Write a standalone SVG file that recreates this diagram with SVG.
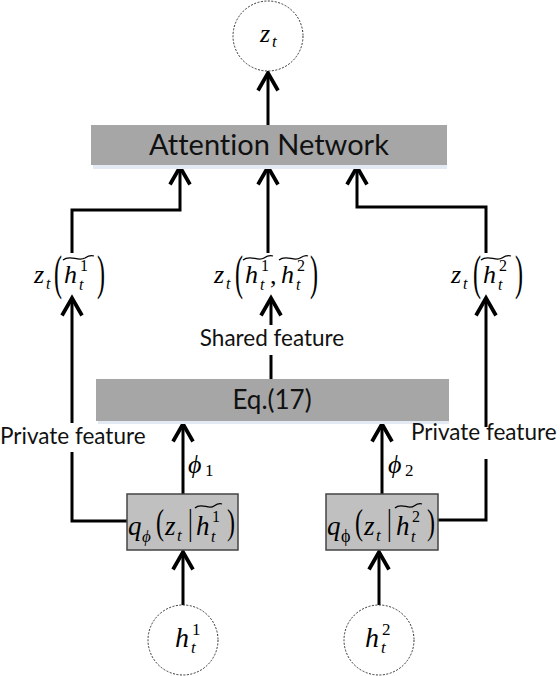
<svg xmlns="http://www.w3.org/2000/svg" width="560" height="676" viewBox="0 0 560 676">
<style>
.m{font-family:"Liberation Serif",serif;font-style:italic;fill:#000}
.r{font-family:"Liberation Serif",serif;fill:#000}
.lab{font-family:Lato,"Open Sans",sans-serif;fill:#111;font-variant-ligatures:none;font-feature-settings:"liga" 0}
.circ{fill:#fff;stroke:#333;stroke-width:1;stroke-dasharray:2 1.5}
.bigbox{fill:#a6a6a6}
.shadow{fill:#e3eaf4}
.qbox{fill:#c0c0c0;stroke:#444;stroke-width:1.5}
.ln{fill:none;stroke:#000;stroke-width:3}
.tl{fill:none;stroke:#000;stroke-width:1.3}
</style>
<defs>
<marker id="ah" markerUnits="userSpaceOnUse" markerWidth="30" markerHeight="30" viewBox="-16 -12 20 24" refX="0" refY="0" orient="auto" overflow="visible">
<path d="M-14,-8 L0,0 L-14,8" fill="none" stroke="#000" stroke-width="3"/>
</marker>
</defs>
<rect width="560" height="676" fill="#fff"/>

<g id="connectors">
<path class="ln" d="M268,125 L268,73" marker-end="url(#ah)"/>
<path class="ln" d="M72,253 L72,210 L180,210 L180,167" marker-end="url(#ah)"/>
<path class="ln" d="M268,253 L268,167" marker-end="url(#ah)"/>
<path class="ln" d="M486,253 L486,207 L357,207 L357,167" marker-end="url(#ah)"/>
<path class="ln" d="M271,379 L271,355"/>
<path class="ln" d="M271,325 L271,298" marker-end="url(#ah)"/>
<path class="ln" d="M127,521 L72,521 L72,452"/>
<path class="ln" d="M72,423 L72,298" marker-end="url(#ah)"/>
<path class="ln" d="M438,520 L486,520 L486,459"/>
<path class="ln" d="M486,427 L486,298" marker-end="url(#ah)"/>
<path class="ln" d="M183,494 L183,424" marker-end="url(#ah)"/>
<path class="ln" d="M382,494 L382,424" marker-end="url(#ah)"/>
<path class="ln" d="M183,605 L183,552" marker-end="url(#ah)"/>
<path class="ln" d="M379,605 L379,552" marker-end="url(#ah)"/>
</g>

<g id="zt">
<circle class="circ" cx="268" cy="36" r="35"/>
<text class="m" x="260" y="42" font-size="26">z</text>
<text class="m" x="272" y="47" font-size="17">t</text>
</g>

<g id="attention">
<rect class="shadow" x="93" y="163" width="354" height="6"/>
<rect class="bigbox" x="91" y="125" width="356" height="40"/>
<text class="lab" x="269" y="155" font-size="29" text-anchor="middle">Attention Network</text>
</g>

<g id="label-left">
<text class="m" x="34" y="283" font-size="26">z</text>
<text class="m" x="46" y="289" font-size="16">t</text>
<text class="r" font-size="24" transform="translate(54,289) scale(1,2)">(</text>
<text class="m" x="64" y="283" font-size="26">h</text>
<text class="r" x="80" y="271" font-size="16">1</text>
<text class="m" x="79" y="290" font-size="16">t</text>
<text class="r" font-size="24" transform="translate(97,289) scale(1,2)">)</text>
<path class="tl" d="M63,260 C70,254 78,262 85,258 C88,256 91,255 94,256"/>
</g>

<g id="label-mid">
<text class="m" x="214" y="283" font-size="26">z</text>
<text class="m" x="226" y="289" font-size="16">t</text>
<text class="r" font-size="24" transform="translate(235,289) scale(1,2)">(</text>
<text class="m" x="245" y="283" font-size="26">h</text>
<text class="r" x="261" y="271" font-size="16">1</text>
<text class="m" x="260" y="290" font-size="16">t</text>
<text class="r" x="270" y="284" font-size="26">,</text>
<text class="m" x="281" y="283" font-size="26">h</text>
<text class="r" x="297" y="271" font-size="16">2</text>
<text class="m" x="296" y="290" font-size="16">t</text>
<text class="r" font-size="24" transform="translate(310,289) scale(1,2)">)</text>
<path class="tl" d="M243,260 C250,254 258,262 264,258 C267,256 270,255 273,256"/>
<path class="tl" d="M279,260 C286,254 294,262 300,258 C303,256 306,255 308,256"/>
</g>

<g id="label-right">
<text class="m" x="451" y="283" font-size="26">z</text>
<text class="m" x="463" y="289" font-size="16">t</text>
<text class="r" font-size="24" transform="translate(473,289) scale(1,2)">(</text>
<text class="m" x="483" y="283" font-size="26">h</text>
<text class="r" x="499" y="271" font-size="16">2</text>
<text class="m" x="498" y="290" font-size="16">t</text>
<text class="r" font-size="24" transform="translate(515,289) scale(1,2)">)</text>
<path class="tl" d="M481,260 C488,254 496,262 502,258 C505,256 508,255 511,256"/>
</g>

<g id="shared-label">
<text class="lab" x="272" y="346" font-size="22.5" text-anchor="middle">Shared feature</text>
</g>

<g id="eq17">
<rect class="shadow" x="98" y="419" width="351" height="5"/>
<rect class="bigbox" x="96" y="379" width="353" height="42"/>
<text class="lab" x="272" y="409" font-size="26" text-anchor="middle">Eq.(17)</text>
</g>

<g id="private-left">
<text class="lab" x="0" y="444" font-size="22.5">Private feature</text>
</g>
<g id="private-right">
<text class="lab" x="411" y="440" font-size="22.5">Private feature</text>
</g>

<g id="phi1">
<text class="m" x="188" y="473" font-size="26">ϕ</text>
<text class="r" x="205" y="476" font-size="17">1</text>
</g>
<g id="phi2">
<text class="m" x="388" y="473" font-size="26">ϕ</text>
<text class="r" x="405" y="476" font-size="17">2</text>
</g>

<g id="q1">
<rect class="qbox" x="127" y="494" width="111" height="56"/>
<text class="m" x="128" y="535" font-size="27">q</text>
<text class="m" x="142" y="542" font-size="17">ϕ</text>
<text class="r" font-size="24" transform="translate(156,534) scale(1,1.45)">(</text>
<text class="m" x="165" y="535" font-size="27">z</text>
<text class="m" x="177" y="541" font-size="17">t</text>
<text class="r" font-size="24" transform="translate(188,534) scale(1,1.45)">|</text>
<text class="m" x="196" y="535" font-size="27">h</text>
<text class="r" x="212" y="522" font-size="16">1</text>
<text class="m" x="211" y="542" font-size="16">t</text>
<text class="r" font-size="24" transform="translate(227,534) scale(1,1.45)">)</text>
<path class="tl" d="M195,508 C201,502 209,510 214,506 C217,504 219,503 222,504"/>
</g>

<g id="q2">
<rect class="qbox" x="326" y="494" width="112" height="56"/>
<text class="m" x="327" y="535" font-size="27">q</text>
<text class="r" x="341" y="542" font-size="18">ϕ</text>
<text class="r" font-size="24" transform="translate(355,534) scale(1,1.45)">(</text>
<text class="m" x="364" y="535" font-size="27">z</text>
<text class="m" x="376" y="541" font-size="17">t</text>
<text class="r" font-size="24" transform="translate(387,534) scale(1,1.45)">|</text>
<text class="m" x="396" y="535" font-size="27">h</text>
<text class="r" x="412" y="522" font-size="16">2</text>
<text class="m" x="411" y="542" font-size="16">t</text>
<text class="r" font-size="24" transform="translate(427,534) scale(1,1.45)">)</text>
<path class="tl" d="M395,508 C401,502 409,510 414,506 C417,504 419,503 422,504"/>
</g>

<g id="h1">
<circle class="circ" cx="183" cy="640" r="35"/>
<text class="m" x="175" y="647" font-size="28">h</text>
<text class="r" x="192" y="635" font-size="17">1</text>
<text class="m" x="191" y="653" font-size="17">t</text>
</g>
<g id="h2">
<circle class="circ" cx="379" cy="640" r="35"/>
<text class="m" x="365" y="647" font-size="28">h</text>
<text class="r" x="382" y="635" font-size="17">2</text>
<text class="m" x="381" y="653" font-size="17">t</text>
</g>
</svg>
